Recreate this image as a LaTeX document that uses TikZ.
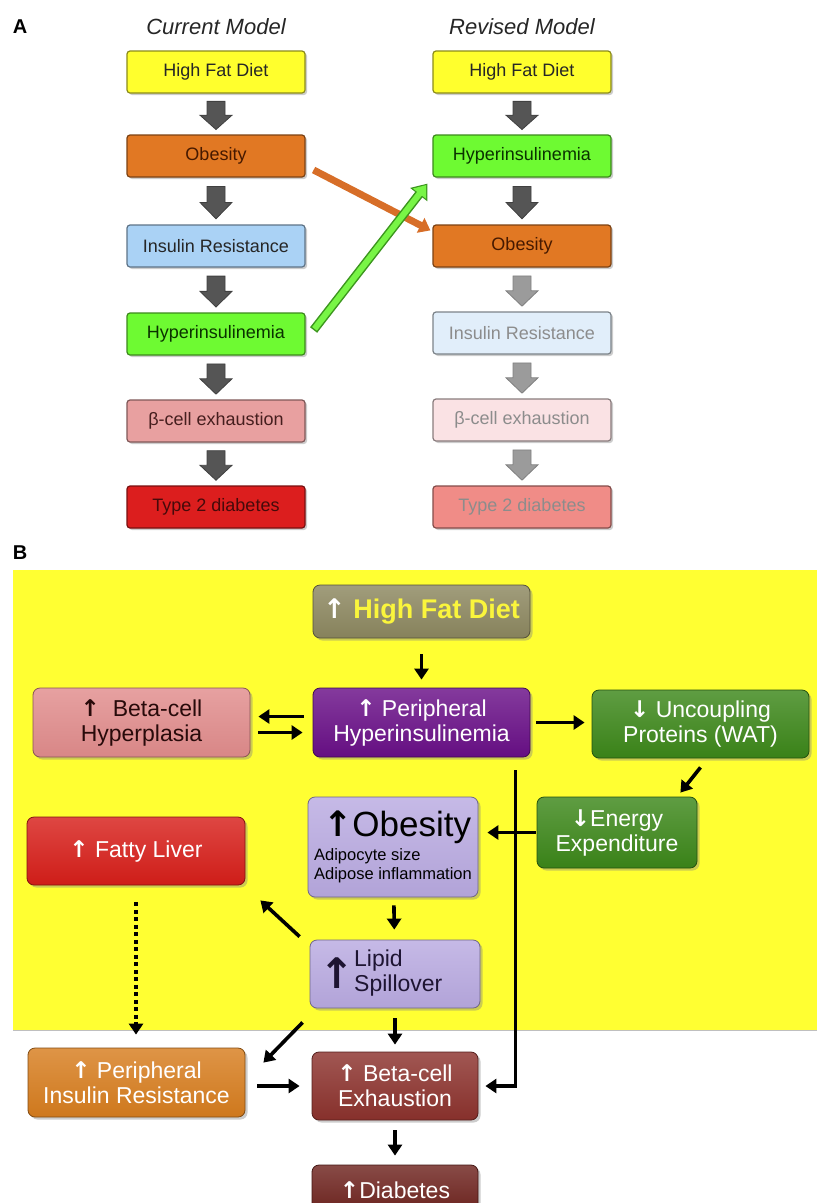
\documentclass[tikz,border=0pt]{standalone}
\usepackage{fontspec}
\setmainfont{Liberation Sans}
\newfontfamily\arw{DejaVu Sans}
\usetikzlibrary{arrows.meta,calc,shadows}

% panel A colours
\definecolor{cYel}{RGB}{255,255,45}
\definecolor{cOra}{RGB}{225,120,35}
\definecolor{cBlu}{RGB}{170,210,245}
\definecolor{cGrn}{RGB}{110,250,50}
\definecolor{cPnk}{RGB}{232,160,160}
\definecolor{cRed}{RGB}{220,30,30}
\definecolor{cBluF}{RGB}{225,238,250}
\definecolor{cPnkF}{RGB}{250,226,228}
\definecolor{cRedF}{RGB}{240,140,135}
\definecolor{cOrArr}{RGB}{215,110,40}
\definecolor{cGrnArr}{RGB}{120,245,70}
\definecolor{cGrnDk}{RGB}{60,150,30}
\definecolor{cBlk}{RGB}{85,85,85}
\definecolor{cGry}{RGB}{155,155,155}
% panel B colours
\definecolor{cBg}{RGB}{255,255,50}
\definecolor{cOlv}{RGB}{140,135,95}
\definecolor{cHfdTxt}{RGB}{250,245,60}
\definecolor{cPur}{RGB}{105,15,135}
\definecolor{cRose}{RGB}{225,140,140}
\definecolor{cFor}{RGB}{60,135,25}
\definecolor{cLav}{RGB}{185,170,225}
\definecolor{cLiv}{RGB}{215,30,25}
\definecolor{cAmb}{RGB}{215,125,30}
\definecolor{cBrn}{RGB}{140,50,45}
\definecolor{cDbr}{RGB}{110,35,30}

\newcommand\uparr{{\arw\bfseries ↑}}
\newcommand\dnarr{{\arw\bfseries ↓}}

% block arrow between two stacked boxes
\newcommand{\blockarr}[3]{%
  \path (#1.south) -- (#2.north)
    coordinate[pos=0.19] (#1-bt)
    coordinate[pos=0.53] (#1-bm)
    coordinate[pos=0.88] (#1-bp);
  \filldraw[#3, line width=0.8pt, line join=miter]
    ($(#1-bt)+(-9,0)$) -- ($(#1-bm)+(-9,0)$) -- ($(#1-bm)+(-16,0)$) --
    (#1-bp) -- ($(#1-bm)+(16,0)$) -- ($(#1-bm)+(9,0)$) -- ($(#1-bt)+(9,0)$) -- cycle;
}

\tikzset{
  abox/.style={draw=#1!55!black, fill=#1, rounded corners=3pt, line width=1.2pt,
    minimum width=178pt, minimum height=42pt, inner sep=2pt,
    font=\fontsize{18}{20}\selectfont,
    drop shadow={shadow xshift=2pt, shadow yshift=-2pt, opacity=0.4}},
  bbox/.style={draw=#1!60!black, top color=#1!82!white, bottom color=#1!96!black,
    rounded corners=7pt, line width=0.8pt, inner sep=3pt, align=center,
    font=\fontsize{23}{25}\selectfont,
    drop shadow={shadow xshift=2.5pt, shadow yshift=-2.5pt, opacity=0.4}},
  darkarr/.style={fill=cBlk, draw=black!75},
  lightarr/.style={fill=cGry, draw=black!50},
  barr/.style={line width=3.6pt, -{Triangle[length=11pt,width=14pt]}},
  heading/.style={font=\fontsize{22}{24}\selectfont\itshape, text=black!85},
  panel/.style={font=\fontsize{20}{22}\selectfont\bfseries}
}

\begin{document}
\begin{tikzpicture}[x=1pt,y=1pt]
\useasboundingbox (0,0) rectangle (817,-1203);

% ---------------- panel A ----------------
\node[panel] (labA) at (20,-27) {A};
\node[heading] (cur) at (216,-27) {Current Model};
\node[heading] (rev) at (522,-27) {Revised Model};

\node[abox=cYel, text=black!85] (a1) at (216,-72) {High Fat Diet};
\node[abox=cOra, text={rgb,255:red,70;green,25;blue,0}] (a2) at (216,-156) {Obesity};
\node[abox=cBlu, text=black!85] (a3) at (216,-246) {Insulin Resistance};
\node[abox=cGrn, text={rgb,255:red,10;green,50;blue,0}] (a4) at (216,-334) {Hyperinsulinemia};
\node[abox=cPnk, text={rgb,255:red,70;green,30;blue,30}] (a5) at (216,-421) {β-cell exhaustion};
\node[abox=cRed, text={rgb,255:red,70;green,10;blue,10}] (a6) at (216,-507) {Type 2 diabetes};

\node[abox=cYel, text=black!85] (r1) at (522,-72) {High Fat Diet};
\node[abox=cGrn, text={rgb,255:red,10;green,50;blue,0}] (r2) at (522,-156) {Hyperinsulinemia};
\node[abox=cOra, text={rgb,255:red,70;green,25;blue,0}] (r3) at (522,-246) {Obesity};
\node[abox=cBluF, text=black!45] (r4) at (522,-333) {Insulin Resistance};
\node[abox=cPnkF, text=black!45] (r5) at (522,-420) {β-cell exhaustion};
\node[abox=cRedF, text=black!45] (r6) at (522,-507) {Type 2 diabetes};

\blockarr{a1}{a2}{darkarr}
\blockarr{a2}{a3}{darkarr}
\blockarr{a3}{a4}{darkarr}
\blockarr{a4}{a5}{darkarr}
\blockarr{a5}{a6}{darkarr}
\blockarr{r1}{r2}{darkarr}
\blockarr{r2}{r3}{darkarr}
\blockarr{r3}{r4}{lightarr}
\blockarr{r4}{r5}{lightarr}
\blockarr{r5}{r6}{lightarr}

% re-ordering arrows
\coordinate (os) at ($(a2.east)+(8,-14)$);
\coordinate (oe) at ($(r3.north west)+(-2,-6)$);
\draw[line width=7pt, draw=cOrArr, -{Triangle[length=11pt,width=16pt]}] (os) -- (oe);
\coordinate (gs) at ($(a4.east)+(8,4)$);
\coordinate (ge) at ($(r2.south west)+(-5,-6)$);
\draw[line width=9pt, draw=cGrnDk, -{Triangle[length=14pt,width=21pt]}] (gs) -- (ge);
\draw[line width=6pt, draw=cGrnArr, -{Triangle[length=11pt,width=16pt]},
  shorten >=1.8pt, shorten <=1.5pt] (gs) -- (ge);

% ---------------- panel B ----------------
\node[panel] (labB) at (20,-553) {B};
\fill[cBg] (13,-570) rectangle (817,-1030);
\draw[black!25, line width=1pt] (13,-1030) -- (817,-1030);

\node[bbox=cOlv, minimum width=217pt, minimum height=53pt,
  font=\fontsize{27}{29}\selectfont\bfseries, text=cHfdTxt] (hfd) at (421.5,-611.5)
  {{\color{white}\uparr} High Fat Diet};
\node[bbox=cPur, minimum width=217pt, minimum height=69pt, text=white] (per) at (421.5,-722.5)
  {\uparr\ Peripheral\\Hyperinsulinemia};
\node[bbox=cRose, minimum width=217pt, minimum height=69pt,
  text={rgb,255:red,40;green,10;blue,10}] (hyp) at (141.5,-722.5)
  {\uparr\ \ Beta-cell\\Hyperplasia};
\node[bbox=cFor, minimum width=217pt, minimum height=68pt, text=white] (unc) at (700.5,-724)
  {\dnarr\ Uncoupling\\Proteins (WAT)};
\node[bbox=cFor, minimum width=160pt, minimum height=71pt, text=white] (enr) at (617,-832.5)
  {\dnarr Energy\\Expenditure};
\node[bbox=cLav, minimum width=170pt, minimum height=100pt, align=left, text=black,
  inner sep=2pt, font=\fontsize{16.5}{19.5}\selectfont] (obs) at (393,-847)
  {\hspace*{9pt}{\fontsize{35}{36}\selectfont{\arw\bfseries ↑}Obesity}\\[4pt]
   Adipocyte size\\
   Adipose inflammation};
\node[bbox=cLav, minimum width=170pt, minimum height=68pt, text width=152pt, align=left,
  text={rgb,255:red,30;green,20;blue,50}] (lip) at (395,-974)
  {\raisebox{-8pt}{\fontsize{42}{42}\selectfont\arw\bfseries ↑}\begin{tabular}{@{}l@{}}Lipid\\Spillover\end{tabular}};
\node[bbox=cLiv, minimum width=218pt, minimum height=68pt, text=white] (fat) at (136,-851)
  {\uparr\ Fatty Liver};
\node[bbox=cAmb, minimum width=217pt, minimum height=69pt, text=white] (pir) at (136.5,-1082.5)
  {\uparr\ Peripheral\\Insulin Resistance};
\node[bbox=cBrn, minimum width=166pt, minimum height=68pt, text=white] (bte) at (395,-1086)
  {\uparr\ Beta-cell\\Exhaustion};
\node[bbox=cDbr, minimum width=166pt, minimum height=50pt, text=white] (dia) at (395,-1190)
  {\uparr Diabetes};

% connectors of panel B
\draw[barr, shorten <=16pt, shorten >=8pt] (hfd) -- (per);
\draw[barr, shorten <=9pt, shorten >=8pt] ([yshift=6pt]per.west) -- ([yshift=6pt]hyp.east);
\draw[barr, shorten <=8pt, shorten >=10pt] ([yshift=-10pt]hyp.east) -- ([yshift=-10pt]per.west);
\draw[barr, shorten <=6pt, shorten >=7pt] (per.east) -- (per.east -| unc.west);
\coordinate (u1) at ($(unc.south)+(0,-9)$);
\coordinate (u2) at ($(enr.north east)+(-17,4)$);
\draw[barr] (u1) -- (u2);
\coordinate (vtop) at ($(per.south east)+(-15,-13)$);
\draw[barr, shorten >=7pt] (vtop) |- (bte.east);
\draw[barr, shorten <=1pt, shorten >=9pt] (enr.west) -- (enr.west -| obs.east);
\draw[barr, shorten <=8pt, shorten >=10pt] (obs) -- (lip);
\draw[barr, shorten <=10pt, shorten >=7pt] (lip) -- (bte);
\draw[barr, shorten <=10pt, shorten >=9pt] (bte) -- (dia);
\coordinate (l1) at ($(lip.north west)+(-10,3)$);
\coordinate (l2) at ($(fat.south east)+(15,-15)$);
\draw[barr] (l1) -- (l2);
\coordinate (l3) at ($(lip.south west)+(-7,-14)$);
\coordinate (l4) at ($(pir.north east)+(18,-15)$);
\draw[barr] (l3) -- (l4);
\draw[line width=4.5pt, dash pattern=on 4pt off 3.5pt, shorten <=17pt, shorten >=13pt,
  -{Triangle[length=11pt,width=14pt]}] (fat) -- (fat |- pir.north);
\draw[barr, shorten <=12pt, shorten >=12pt] (pir.east |- bte.west) -- (bte.west);
\end{tikzpicture}
\end{document}
